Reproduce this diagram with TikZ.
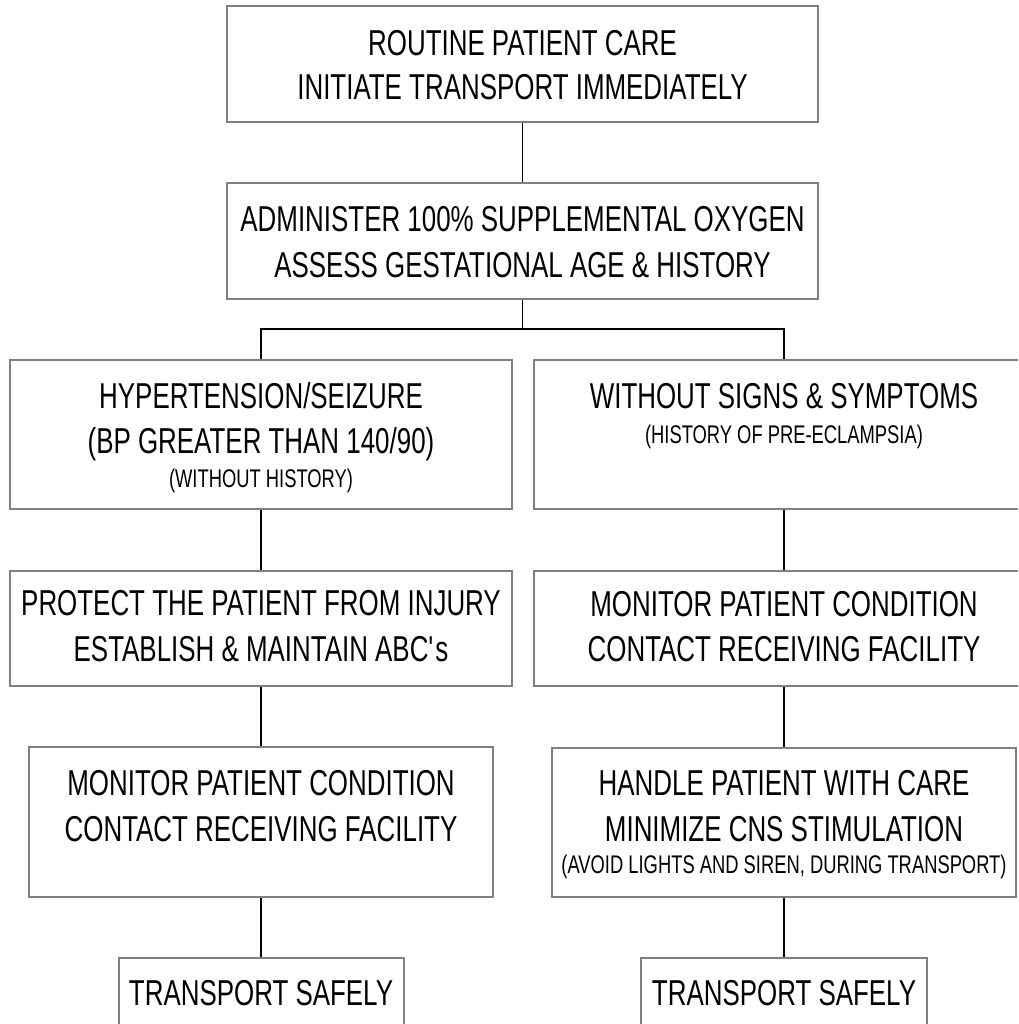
\documentclass[tikz,border=0pt]{standalone}
\usepackage{fontspec}
\setmainfont{Liberation Sans}[FakeStretch=0.72]
\definecolor{boxgray}{RGB}{128,128,128}
\begin{document}
\begin{tikzpicture}[x=1pt,y=-1pt,
  box/.style={draw=boxgray, line width=2pt, rectangle, inner sep=0pt},
  big/.style={anchor=base, inner sep=0pt, font=\fontsize{36}{36}\selectfont},
  small/.style={anchor=base, inner sep=0pt, font=\fontsize{25.5}{25.5}\selectfont},
  link/.style={draw=black, line width=1.8pt}]
\useasboundingbox (0,0) rectangle (1018,1024);
\clip (0,0) rectangle (1018,1024);

% top boxes
\node[box, minimum width=591pt, minimum height=116pt] (b1) at (522.5,64) {};
\node[box, minimum width=591pt, minimum height=116pt] (b2) at (522.5,241) {};
% left column
\node[box, minimum width=502pt, minimum height=149pt] (l1) at (261,434.5) {};
\node[box, minimum width=502pt, minimum height=115pt] (l2) at (261,628.5) {};
\node[box, minimum width=464pt, minimum height=150pt] (l3) at (261,822) {};
\node[box, minimum width=285pt, minimum height=116pt] (l4) at (261,1016) {};
% right column
\node[box, minimum width=500pt, minimum height=149pt] (r1) at (784,434.5) {};
\node[box, minimum width=500pt, minimum height=115pt] (r2) at (784,628.5) {};
\node[box, minimum width=464pt, minimum height=149pt] (r3) at (784,822.5) {};
\node[box, minimum width=286pt, minimum height=116pt] (r4) at (784,1016) {};

% texts
\node[big] (t1a) at (522.5,55.5) {ROUTINE PATIENT CARE};
\node[big] (t1b) at (522.5,100) {INITIATE TRANSPORT IMMEDIATELY};
\node[big] (t2a) at (522.5,232) {ADMINISTER 100\% SUPPLEMENTAL OXYGEN};
\node[big] (t2b) at (522.5,277) {ASSESS GESTATIONAL AGE \& HISTORY};

\node[big] (l1a) at (261,408) {HYPERTENSION/SEIZURE};
\node[big] (l1b) at (261,453) {(BP GREATER THAN 140/90)};
\node[small] (l1c) at (261,487) {(WITHOUT HISTORY)};
\node[big] (l2a) at (261,615) {PROTECT THE PATIENT FROM INJURY};
\node[big] (l2b) at (261,661) {ESTABLISH \& MAINTAIN ABC\textquotesingle s};
\node[big] (l3a) at (261,795) {MONITOR PATIENT CONDITION};
\node[big] (l3b) at (261,841) {CONTACT RECEIVING FACILITY};
\node[big] (l4a) at (261,1005) {TRANSPORT SAFELY};

\node[big] (r1a) at (784,408) {WITHOUT SIGNS \& SYMPTOMS};
\node[small] (r1b) at (784,443) {(HISTORY OF PRE-ECLAMPSIA)};
\node[big] (r2a) at (784,616) {MONITOR PATIENT CONDITION};
\node[big] (r2b) at (784,661) {CONTACT RECEIVING FACILITY};
\node[big] (r3a) at (784,795) {HANDLE PATIENT WITH CARE};
\node[big] (r3b) at (784,841) {MINIMIZE CNS STIMULATION};
\node[small] (r3c) at (784,873) {(AVOID LIGHTS AND SIREN, DURING TRANSPORT)};
\node[big] (r4a) at (784,1005) {TRANSPORT SAFELY};

% connectors
\coordinate (split) at (522.5,329);
\path[link] (b1.south) -- (b2.north);
\path[link] (b2.south) -- (split);
\path[link] (l1.north) |- (split) -| (r1.north);
\path[link] (l1.south) -- (l2.north);
\path[link] (l2.south) -- (l3.north);
\path[link] (l3.south) -- (l4.north);
\path[link] (r1.south) -- (r2.north);
\path[link] (r2.south) -- (r3.north);
\path[link] (r3.south) -- (r4.north);
\end{tikzpicture}
\end{document}
